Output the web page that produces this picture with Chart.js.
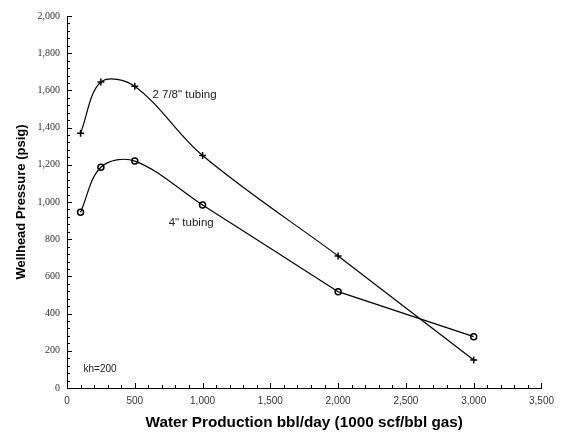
<!DOCTYPE html>
<html>
<head>
<meta charset="utf-8">
<script src="https://cdn.jsdelivr.net/npm/chart.js@4.4.1/dist/chart.umd.min.js"></script>
<style>
  html, body { margin: 0; padding: 0; background: #fff; }
  #wrap { width: 561px; height: 432px; }
</style>
</head>
<body>
<div id="wrap"><canvas id="chart"></canvas></div>
<script>
// Water rate, bbl/day
const waterRate = [100, 250, 500, 1000, 2000, 3000];
// Wellhead pressure, psig
const tubing278 = [1370, 1645, 1622, 1250, 710, 150];
const tubing4 = [945, 1187, 1220, 984, 518, 276];

const xMajorTicks = [0, 500, 1000, 1500, 2000, 2500, 3000, 3500];
const yMajorTicks = [0, 200, 400, 600, 800, 1000, 1200, 1400, 1600, 1800, 2000];
const xMinorStep = 100;
const yMinorStep = 40;

// text notes, placed in data units
const notes = [
  { text: '2 7/8" tubing', x: 630, y: 1575, size: 11.5 },
  { text: '4" tubing', x: 750, y: 889, size: 11.5 },
  { text: "kh=200", x: 122, y: 102, size: 10 }
];

// the curve is smoothed up to 2,000 bbl/day, straight beyond
const bend = 4;

function pts(ys, from, to) {
  return waterRate.slice(from, to).map((x, i) => ({ x, y: ys[from + i] }));
}

function fmt(v) {
  return v.toLocaleString("en-US");
}

function curvePart(ys) {
  return {
    data: pts(ys, 0, bend + 1),
    showLine: true,
    tension: 0.35,
    borderColor: "#000",
    borderWidth: 1.2,
    pointRadius: 0
  };
}

function straightPart(ys) {
  return {
    data: pts(ys, bend, waterRate.length),
    showLine: true,
    tension: 0,
    borderColor: "#000",
    borderWidth: 1.2,
    pointRadius: 0
  };
}

function markers(ys, style, radius) {
  return {
    data: pts(ys, 0, waterRate.length),
    showLine: false,
    pointStyle: style,
    pointRadius: radius,
    pointBorderColor: "#000",
    pointBackgroundColor: "#fff",
    pointBorderWidth: 1.5
  };
}

// inward tick marks, long on the labelled values
const tickMarks = {
  id: "tickMarks",
  afterDraw(chart) {
    const c = chart.ctx;
    const xs = chart.scales.x;
    const ys = chart.scales.y;
    c.save();
    c.strokeStyle = "#000";
    c.lineWidth = 1;
    c.beginPath();
    for (let v = xs.min; v <= xs.max; v += xMinorStep) {
      const px = Math.round(xs.getPixelForValue(v)) + 0.5;
      const len = xMajorTicks.includes(v) ? 5 : 3;
      c.moveTo(px, xs.top);
      c.lineTo(px, xs.top - len);
    }
    for (let v = ys.min; v <= ys.max; v += yMinorStep) {
      const py = Math.round(ys.getPixelForValue(v)) + 0.5;
      const len = yMajorTicks.includes(v) ? 5 : 3;
      c.moveTo(ys.right, py);
      c.lineTo(ys.right + len, py);
    }
    c.stroke();
    c.restore();
  }
};

const noteText = {
  id: "noteText",
  afterDraw(chart) {
    const c = chart.ctx;
    const xs = chart.scales.x;
    const ys = chart.scales.y;
    c.save();
    c.fillStyle = "#222";
    c.textAlign = "left";
    c.textBaseline = "middle";
    notes.forEach((n) => {
      c.font = `${n.size}px "Liberation Sans", Arial, sans-serif`;
      c.fillText(n.text, xs.getPixelForValue(n.x), ys.getPixelForValue(n.y));
    });
    c.restore();
  }
};

new Chart(document.getElementById("chart"), {
  type: "scatter",
  data: {
    datasets: [
      curvePart(tubing278),
      straightPart(tubing278),
      markers(tubing278, "cross", 3.5),
      curvePart(tubing4),
      straightPart(tubing4),
      markers(tubing4, "circle", 3)
    ]
  },
  options: {
    responsive: true,
    maintainAspectRatio: false,
    animation: false,
    layout: { padding: { top: 16, right: 17, left: 0, bottom: 0 } },
    plugins: {
      legend: { display: false },
      tooltip: { enabled: false }
    },
    scales: {
      x: {
        type: "linear",
        min: 0,
        max: 3500,
        afterFit: (s) => { s.height = 44; },
        afterBuildTicks: (s) => { s.ticks = xMajorTicks.map((v) => ({ value: v })); },
        ticks: {
          maxRotation: 0,
          padding: 7,
          color: "#333",
          font: { family: "'Liberation Sans', Arial, sans-serif", size: 10 },
          callback: (v) => fmt(v)
        },
        grid: { drawOnChartArea: false, drawTicks: false },
        border: { display: true, color: "#000", width: 1 },
        title: {
          display: true,
          text: "Water Production bbl/day (1000 scf/bbl gas)",
          color: "#000",
          padding: { top: 0, bottom: 0 },
          font: { family: "'Liberation Sans', Arial, sans-serif", size: 15.3, weight: "bold" }
        }
      },
      y: {
        type: "linear",
        min: 0,
        max: 2000,
        afterFit: (s) => { s.width = 67; },
        afterBuildTicks: (s) => { s.ticks = yMajorTicks.map((v) => ({ value: v })); },
        ticks: {
          padding: 7,
          color: "#333",
          font: { family: "'Liberation Serif', 'Times New Roman', serif", size: 10 },
          callback: (v) => fmt(v)
        },
        grid: { drawOnChartArea: false, drawTicks: false },
        border: { display: true, color: "#000", width: 1 },
        title: {
          display: true,
          text: "Wellhead Pressure (psig)",
          color: "#000",
          padding: { top: 14, bottom: 0 },
          font: { family: "'Liberation Sans', Arial, sans-serif", size: 13, weight: "bold" }
        }
      }
    }
  },
  plugins: [tickMarks, noteText]
});
</script>
</body>
</html>
